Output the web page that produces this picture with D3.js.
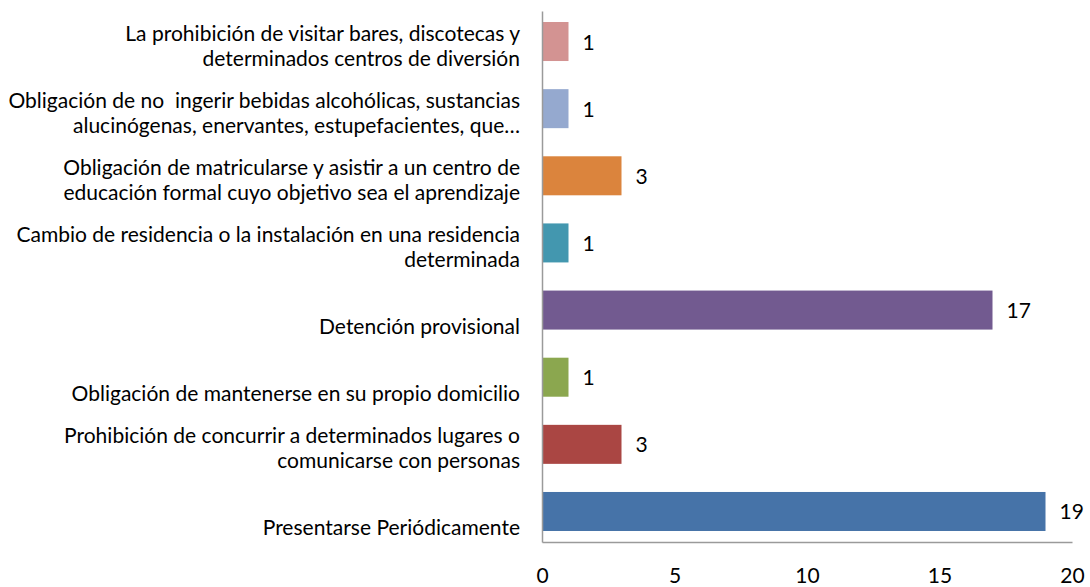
<!DOCTYPE html>
<html>
<head>
<meta charset="utf-8">
<script src="https://cdn.jsdelivr.net/npm/d3@7"></script>
<style>
  html, body { margin: 0; padding: 0; background: #ffffff; }
  svg { display: block; }
  text { font-family: Lato, "Open Sans", sans-serif; fill: #000; white-space: pre; }
</style>
</head>
<body>
<svg id="chart" width="1090" height="587"></svg>
<script>
// Categories, top to bottom (each entry = label lines)
const categories = [
  ["La prohibición de visitar bares, discotecas y", "determinados centros de diversión"],
  ["Obligación de no  ingerir bebidas alcohólicas, sustancias", "alucinógenas, enervantes, estupefacientes, que…"],
  ["Obligación de matricularse y asistir a un centro de", "educación formal cuyo objetivo sea el aprendizaje"],
  ["Cambio de residencia o la instalación en una residencia", "determinada"],
  ["Detención provisional"],
  ["Obligación de mantenerse en su propio domicilio"],
  ["Prohibición de concurrir a determinados lugares o", "comunicarse con personas"],
  ["Presentarse Periódicamente"]
];
const values = [1, 1, 3, 1, 17, 1, 3, 19];
const barColors = ["#D39392", "#95A9CF", "#DB843D", "#4397AF", "#725A90", "#8BA74F", "#AA4643", "#4673A8"];
const xTicks = [0, 5, 10, 15, 20];

const svg = d3.select("#chart");
const ids = categories.map((c, i) => i);

const x = d3.scaleLinear().domain([0, 20]).range([542, 1072]);
const y = d3.scaleBand().domain(ids).range([11, 542]).paddingInner(0.419).paddingOuter(0.164);

// Bars
svg.append("g").selectAll("rect")
  .data(ids)
  .join("rect")
  .attr("x", x(0))
  .attr("y", i => y(i))
  .attr("width", i => x(values[i]) - x(0))
  .attr("height", y.bandwidth())
  .attr("fill", i => barColors[i]);

// Axes lines
const axisColor = "#9a9a9a";
const yAxis = svg.append("g")
  .attr("transform", `translate(${x(0)},0)`)
  .call(d3.axisLeft(y).tickSize(0).tickFormat(""));
yAxis.select(".domain").attr("stroke", axisColor).attr("stroke-width", 1.5);

const xAxis = svg.append("g")
  .attr("transform", `translate(0,${y.range()[1]})`)
  .call(d3.axisBottom(x).tickValues(xTicks).tickSize(0).tickPadding(0).tickFormat(d3.format("d")));
xAxis.select(".domain").attr("stroke", axisColor).attr("stroke-width", 1.5);
xAxis.selectAll("text")
  .attr("y", 41)
  .attr("dy", 0)
  .style("font-family", "Lato, 'Open Sans', sans-serif")
  .style("font-size", "21px")
  .attr("fill", "#000");

// Category labels
const labelG = svg.append("g");
const labels = labelG.selectAll("text")
  .data(ids)
  .join("text")
  .attr("text-anchor", "end")
  .style("font-size", "20px");

labels.each(function(i) {
  const lines = categories[i];
  const c = y(i) + y.bandwidth() / 2;
  const t = d3.select(this);
  const offsets = lines.length === 2 ? [-1, 24] : [24];
  lines.forEach((ln, k) => {
    t.append("tspan").attr("x", 520).attr("y", c + offsets[k]).text(ln);
  });
});

// fit font size so the longest line has the reference width
let maxW = 0;
labelG.selectAll("tspan").each(function() { maxW = Math.max(maxW, this.getComputedTextLength()); });
const fitSize = 20 * 512 / maxW;
labels.style("font-size", fitSize + "px");

// Value labels
svg.append("g").selectAll("text")
  .data(ids)
  .join("text")
  .attr("x", i => x(values[i]) + 14)
  .attr("y", i => y(i) + y.bandwidth() / 2 + 8)
  .style("font-size", "21px")
  .text(i => values[i]);
</script>
</body>
</html>
